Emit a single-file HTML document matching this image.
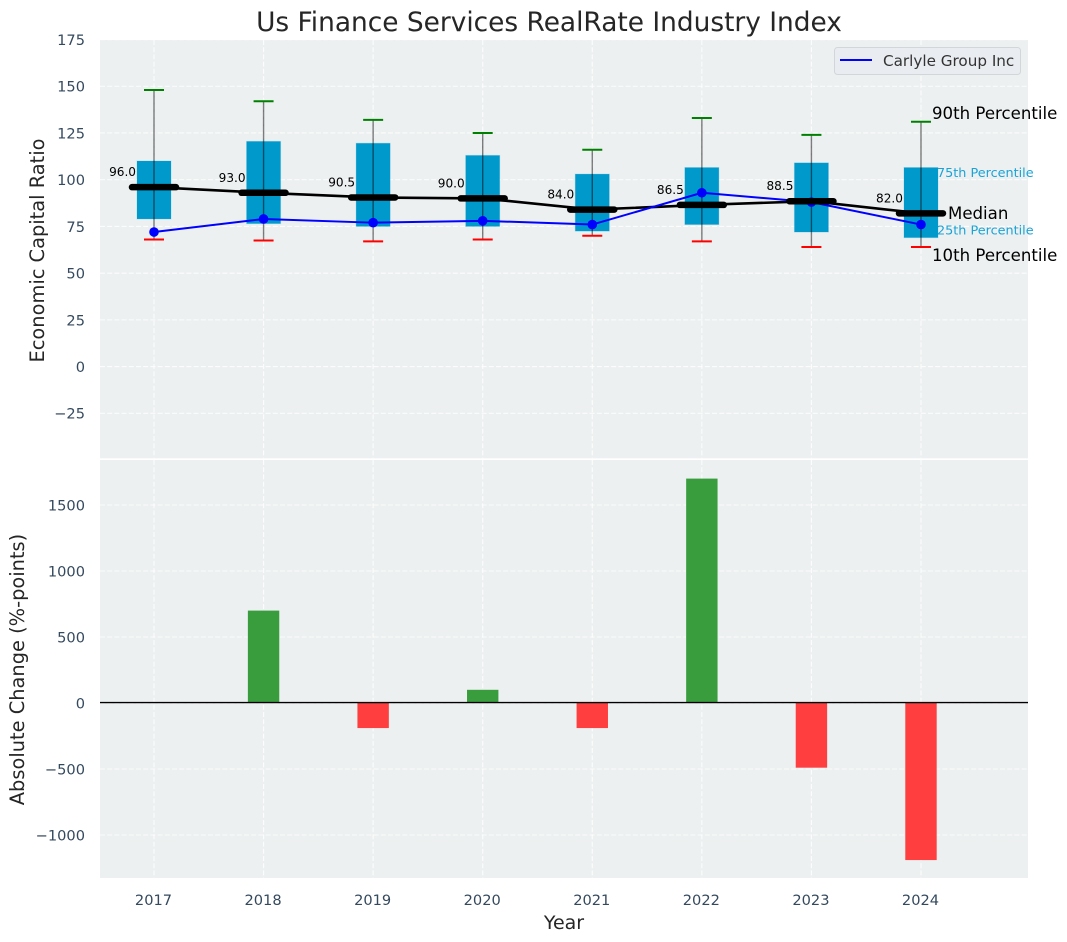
<!DOCTYPE html>
<html>
<head>
<meta charset="utf-8">
<title>Us Finance Services RealRate Industry Index</title>
<style>
html,body{margin:0;padding:0;background:#fff;width:1067px;height:942px;overflow:hidden}
svg{display:block;font-family:"DejaVu Sans","Liberation Sans",sans-serif}
</style>
</head>
<body>
<svg id="chart" xmlns="http://www.w3.org/2000/svg" width="1067" height="942" viewBox="0 0 1067 942"></svg>
<script>
const years = [2017, 2018, 2019, 2020, 2021, 2022, 2023, 2024];
const p90 = [148, 142, 132, 125, 116, 133, 124, 131];
const p75 = [110, 120.5, 119.5, 113, 103, 106.5, 109, 106.5];
const medianValues = [96, 93, 90.5, 90, 84, 86.5, 88.5, 82];
const p25 = [79, 76.5, 75, 75, 72.5, 76, 72, 69];
const p10 = [68, 67.5, 67, 68, 70, 67, 64, 64];
const carlyle = [72, 79, 77, 78, 76, 93, 88, 76];
const changes = [0, 700, -190, 100, -190, 1700, -490, -1190];
const topTicks = [175, 150, 125, 100, 75, 50, 25, 0, -25];
const bottomTicks = [1500, 1000, 500, 0, -500, -1000];

const svg = document.getElementById('chart');
const NS = 'http://www.w3.org/2000/svg';
const plotLeft = 100, plotRight = 1028;
const topY0 = 40, topY1 = 458.3, botY0 = 460, botY1 = 878;

function xScale(v) { return 154 + (v - 2017) * 109.57; }
function yTop(v) { return 366.6 - v * 1.869; }
function yBot(v) { return 703 - v * 0.132; }

function make(tag, props, text) {
  const el = document.createElementNS(NS, tag);
  for (const k in props) el.setAttribute(k, props[k]);
  if (text !== undefined) el.textContent = text;
  svg.appendChild(el);
  return el;
}
function minusLabel(v) { return String(v).replace('-', '\u2212'); }

let el;

el = make('rect', {x: plotLeft, y: topY0, width: plotRight - plotLeft, height: topY1 - topY0, fill: '#ecf0f1'});



el = make('rect', {x: plotLeft, y: botY0, width: plotRight - plotLeft, height: botY1 - botY0, fill: '#ecf0f1'});



const gridStyle = {stroke: '#ffffff', 'stroke-width': 1.1, 'stroke-dasharray': '5 2.2', opacity: 0.85};

years.forEach(function (yr) {
  const x = xScale(yr);
  el = make('line', Object.assign({x1: x, x2: x, y1: topY0, y2: topY1}, gridStyle));
  
  
  el = make('line', Object.assign({x1: x, x2: x, y1: botY0, y2: botY1}, gridStyle));
  
  
  el = make('text', {x: x - 0.5, y: 905, 'text-anchor': 'middle', 'font-size': 14.6, fill: '#34495e'}, String(yr));
  
  
});

topTicks.forEach(function (t) {
  const y = yTop(t);
  el = make('line', Object.assign({x1: plotLeft, x2: plotRight, y1: y, y2: y}, gridStyle));
  
  
  el = make('text', {x: 85, y: y + 5.4, 'text-anchor': 'end', 'font-size': 14.6, fill: '#34495e'}, minusLabel(t));
  
  
});

bottomTicks.forEach(function (t) {
  const y = yBot(t);
  el = make('line', Object.assign({x1: plotLeft, x2: plotRight, y1: y, y2: y}, gridStyle));
  
  
  el = make('text', {x: 85, y: y + 5.4, 'text-anchor': 'end', 'font-size': 14.6, fill: '#34495e'}, minusLabel(t));
  
  
});

/* boxes */
years.forEach(function (yr, i) {
  const x = xScale(yr);
  el = make('rect', {x: x - 17, y: yTop(p75[i]), width: 34, height: yTop(p25[i]) - yTop(p75[i]), fill: '#0099cc', stroke: '#0099cc', 'stroke-opacity': 0.2, 'stroke-width': 1});
  
  
});

/* whiskers */
years.forEach(function (yr, i) {
  const x = xScale(yr);
  el = make('line', {x1: x, x2: x, y1: yTop(p90[i]), y2: yTop(p10[i]), stroke: '#000', 'stroke-opacity': 0.5, 'stroke-width': 1.4});
  
  
  el = make('line', {x1: x - 10, x2: x + 10, y1: yTop(p90[i]), y2: yTop(p90[i]), stroke: '#008000', 'stroke-width': 2});
  
  
  el = make('line', {x1: x - 10, x2: x + 10, y1: yTop(p10[i]), y2: yTop(p10[i]), stroke: '#ff0000', 'stroke-width': 2});
  
  
});

/* median trend line */
el = make('polyline', {points: years.map(function (yr, i) { return xScale(yr) + ',' + yTop(medianValues[i]); }).join(' '), fill: 'none', stroke: '#000', 'stroke-width': 2.6});



/* carlyle line */
el = make('polyline', {points: years.map(function (yr, i) { return xScale(yr) + ',' + yTop(carlyle[i]); }).join(' '), fill: 'none', stroke: '#0000ff', 'stroke-width': 2});



years.forEach(function (yr, i) {
  const x = xScale(yr);
  el = make('circle', {cx: x, cy: yTop(carlyle[i]), r: 4.8, fill: '#0000ff'});
  
  
});

/* medians */
years.forEach(function (yr, i) {
  const x = xScale(yr);
  const y = yTop(medianValues[i]);
  el = make('line', {x1: x - 22, x2: x + 22, y1: y, y2: y, stroke: '#000', 'stroke-width': 6.5, 'stroke-linecap': 'round'});
  
  
  el = make('text', {x: x - 18, y: y - 11, 'text-anchor': 'end', 'font-size': 12.1, fill: '#000'}, medianValues[i].toFixed(1));
  
  
});

/* bottom bars */
years.forEach(function (yr, i) {
  const v = changes[i];
  if (v === 0) return;
  const x = xScale(yr);
  const y = Math.min(yBot(v), yBot(0));
  el = make('rect', {x: x - 15.7, y: y, width: 31.4, height: Math.abs(yBot(v) - yBot(0)), fill: v > 0 ? '#3a9d3d' : '#ff3e3f'});
  
  
});

el = make('line', {x1: plotLeft, x2: plotRight, y1: yBot(0) - 0.4, y2: yBot(0) - 0.4, stroke: '#000', 'stroke-width': 1.4});



/* percentile annotations */
el = make('text', {x: 932, y: 119, 'font-size': 16.6, fill: '#000'}, '90th Percentile');


el = make('text', {x: 937, y: 177, 'font-size': 12.8, fill: '#1ba3d6'}, '75th Percentile');


el = make('text', {x: 948, y: 219, 'font-size': 16.6, fill: '#000'}, 'Median');


el = make('text', {x: 937, y: 234.5, 'font-size': 12.8, fill: '#1ba3d6'}, '25th Percentile');


el = make('text', {x: 932, y: 261, 'font-size': 16.6, fill: '#000'}, '10th Percentile');



/* legend */
el = make('rect', {x: 834.5, y: 47.5, width: 186, height: 27, rx: 3, fill: '#e9ecf0', stroke: '#d3d6d9', 'stroke-width': 1});


el = make('line', {x1: 840, x2: 872, y1: 60, y2: 60, stroke: '#0000ff', 'stroke-width': 2});


el = make('text', {x: 883, y: 66, 'font-size': 15.2, fill: '#333'}, 'Carlyle Group Inc');



/* titles */
el = make('text', {x: 549, y: 31, 'text-anchor': 'middle', 'font-size': 26.4, fill: '#262626'}, 'Us Finance Services RealRate Industry Index');


el = make('text', {x: 564, y: 929, 'text-anchor': 'middle', 'font-size': 19, fill: '#262626'}, 'Year');


el = make('text', {x: 0, y: 0, transform: 'translate(44,250.5) rotate(-90)', 'text-anchor': 'middle', 'font-size': 19.4, fill: '#262626'}, 'Economic Capital Ratio');


el = make('text', {x: 0, y: 0, transform: 'translate(24,669.5) rotate(-90)', 'text-anchor': 'middle', 'font-size': 19.4, fill: '#262626'}, 'Absolute Change (%-points)');


</script>
</body>
</html>
